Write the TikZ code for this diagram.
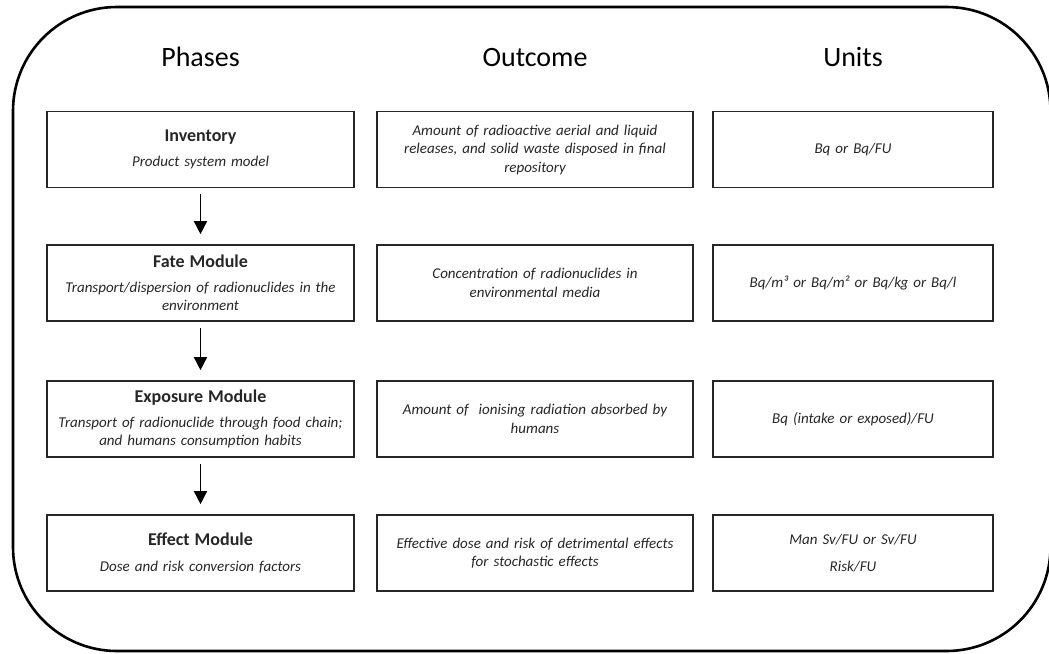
\documentclass[tikz,border=0pt]{standalone}
\usepackage{fontspec}
\setmainfont{Carlito}
\usetikzlibrary{arrows.meta}
\begin{document}
\begin{tikzpicture}[x=1pt,y=-1pt,
  header/.style={font=\fontsize{28}{32}\selectfont, text=black,
    text height=19pt, text depth=0pt, inner sep=0pt},
  cell/.style={draw=black!85, line width=1.6pt, minimum height=76pt,
    inner sep=2pt, align=center, text=black!85,
    font=\fontsize{15}{18.5}\selectfont\itshape},
  phasecell/.style={cell, minimum width=307pt, text width=300pt},
  outcell/.style={cell, minimum width=316pt, text width=300pt},
  unitcell/.style={cell, minimum width=280pt, text width=270pt},
  flow/.style={line width=1.5pt, -{Triangle[length=13pt,width=13pt]},
    shorten <=6pt, shorten >=10pt}
]
\useasboundingbox (0,0) rectangle (1049,653);

% outer frame
\draw[line width=2.6pt, rounded corners=104pt] (13,7) rectangle (1050.5,651);

% column headings
\node[header] (hphase) at (200.5,57) {Phases};
\node[header] (hout)   at (535,57)   {Outcome};
\node[header] (hunit)  at (853,57)   {Units};

% phases
\newcommand{\ttlfont}{\fontsize{18}{22}\selectfont\upshape\bfseries}
\node[phasecell] (inv) at (200.5,149.5)
  {{\ttlfont Inventory}\\[7pt] Product system model};
\node[phasecell] (fate) at (200.5,283)
  {{\ttlfont Fate Module}\\[6pt] Transport/dispersion of radionuclides in the\\ environment};
\node[phasecell] (expo) at (200.5,419)
  {{\ttlfont Exposure Module}\\[6pt] Transport of radionuclide through food chain;\\ and humans consumption habits};
\node[phasecell] (eff) at (200.5,553)
  {{\ttlfont Effect Module}\\[7pt] Dose and risk conversion factors};

% outcomes
\node[outcell] (oinv) at (535,149.5)
  {Amount of radioactive aerial and liquid\\ releases, and solid waste disposed in final\\ repository};
\node[outcell] (ofate) at (535,283)
  {Concentration of radionuclides in\\ environmental media};
\node[outcell] (oexpo) at (535,419)
  {\raisebox{7pt}{\parbox{300pt}{\centering Amount of~ ionising radiation absorbed by\\ humans}}};
\node[outcell] (oeff) at (535,553)
  {Effective dose and risk of detrimental effects\\ for stochastic effects};

% units
\node[unitcell] (uinv) at (853,149.5) {Bq or Bq/FU};
\node[unitcell] (ufate) at (853,283) {Bq/m³ or Bq/m² or Bq/kg or Bq/l};
\node[unitcell] (uexpo) at (853,419) {Bq (intake or exposed)/FU};
\node[unitcell] (ueff) at (853,553) {Man Sv/FU or Sv/FU\\[8pt] Risk/FU};

% flow between phases
\draw[flow] (inv) -- (fate);
\draw[flow] (fate) -- (expo);
\draw[flow] (expo) -- (eff);
\end{tikzpicture}
\end{document}
